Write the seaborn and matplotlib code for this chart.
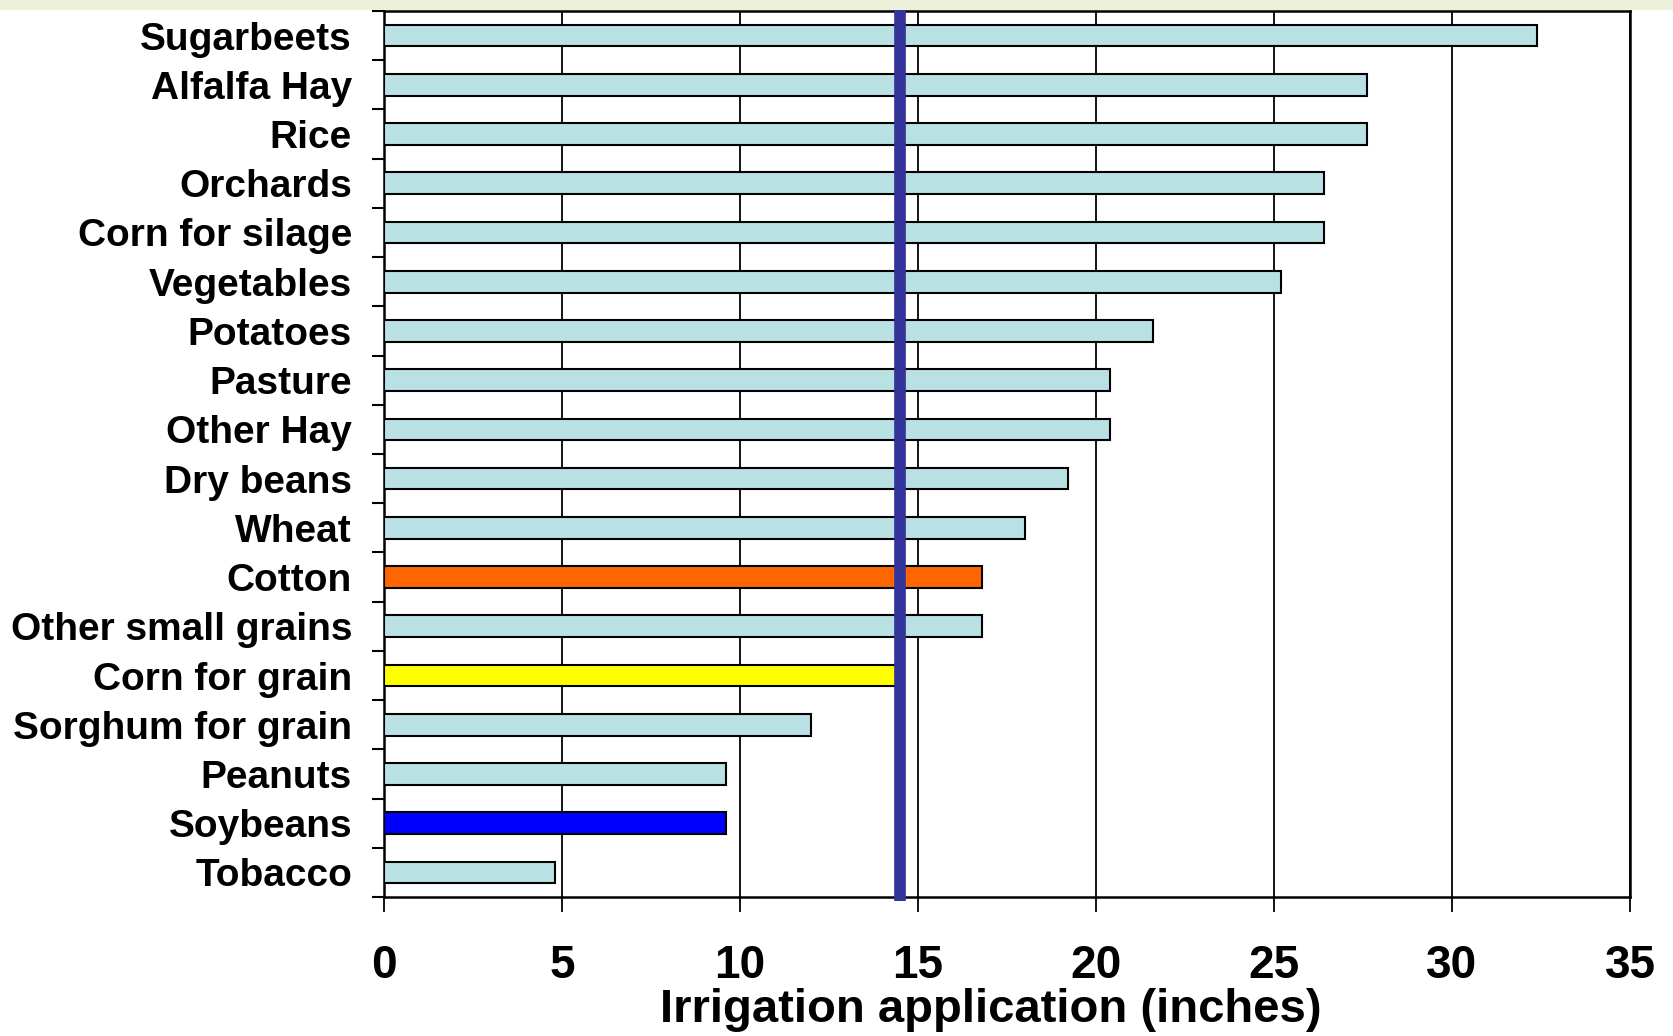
import matplotlib
matplotlib.use("Agg")
import matplotlib.pyplot as plt
import seaborn as sns
import pandas as pd
from matplotlib.patches import Rectangle
from matplotlib.ticker import FixedLocator

crops = ["Sugarbeets", "Alfalfa Hay", "Rice", "Orchards", "Corn for silage",
         "Vegetables", "Potatoes", "Pasture", "Other Hay", "Dry beans", "Wheat",
         "Cotton", "Other small grains", "Corn for grain", "Sorghum for grain",
         "Peanuts", "Soybeans", "Tobacco"]
inches = [32.4, 27.6, 27.6, 26.4, 26.4, 25.2, 21.6, 20.4, 20.4, 19.2, 18.0,
          16.8, 16.8, 14.4, 12.0, 9.6, 9.6, 4.8]
highlight = {"Cotton": "#FF6600", "Corn for grain": "#FFFF00", "Soybeans": "#0000FF"}
base_color = "#B9E0E3"
average_line = 14.5
xticks = [0, 5, 10, 15, 20, 25, 30, 35]

df = pd.DataFrame({"crop": crops, "inches": inches})
palette = {c: highlight.get(c, base_color) for c in crops}

sns.set_theme(style="white")
plt.rcParams["font.family"] = ["Liberation Sans", "DejaVu Sans"]
plt.rcParams["font.weight"] = "bold"

fig = plt.figure(figsize=(16.73, 10.36), dpi=100)
fig.patch.set_facecolor("white")
fig.patches.append(Rectangle((0, 1 - 10 / 1036), 1, 10 / 1036, transform=fig.transFigure,
                             facecolor="#EEF1DA", edgecolor="none", zorder=0))
ax = fig.add_axes([384 / 1673, 1 - 897 / 1036, (1630 - 384) / 1673, (897 - 11) / 1036])

sns.barplot(data=df, x="inches", y="crop", hue="crop", palette=palette, legend=False,
            orient="h", width=0.44, edgecolor="black", linewidth=1.5, ax=ax, zorder=3,
            saturation=1)

ax.set_xlim(0, 35)
ax.set_ylim(len(crops) - 0.5, -0.5)
ax.set_xticks(xticks)
ax.set_xticklabels([str(t) for t in xticks])
ax.grid(axis="x", color="black", linewidth=1.3, zorder=0)
ax.grid(axis="y", visible=False)
ax.set_axisbelow(True)

for s in ax.spines.values():
    s.set_visible(True)
    s.set_color("black")
    s.set_linewidth(1.8)

ax.axvline(average_line, ymin=-0.005, ymax=1.007, color="#333399", lw=8.4,
           clip_on=False, zorder=6, solid_capstyle="butt")

ax.yaxis.set_minor_locator(FixedLocator([i + 0.5 for i in range(-1, len(crops))]))
ax.tick_params(axis="y", which="major", length=0, pad=23, labelsize=28)
ax.tick_params(axis="y", which="minor", length=9, width=1.5, color="black", direction="out", left=True)
ax.tick_params(axis="x", which="major", length=11, width=1.3, color="black", direction="out",
               bottom=True, pad=23, labelsize=33)
for lab in ax.get_yticklabels() + ax.get_xticklabels():
    lab.set_fontweight("bold")
    lab.set_color("black")

ax.set_ylabel("")
ax.set_xlabel("Irrigation application (inches)", fontsize=34, fontweight="bold", color="black")
ax.xaxis.label.set_va("baseline")
ax.xaxis.set_label_coords(0.487, -0.141)

fig.savefig("out.png", dpi=100)
